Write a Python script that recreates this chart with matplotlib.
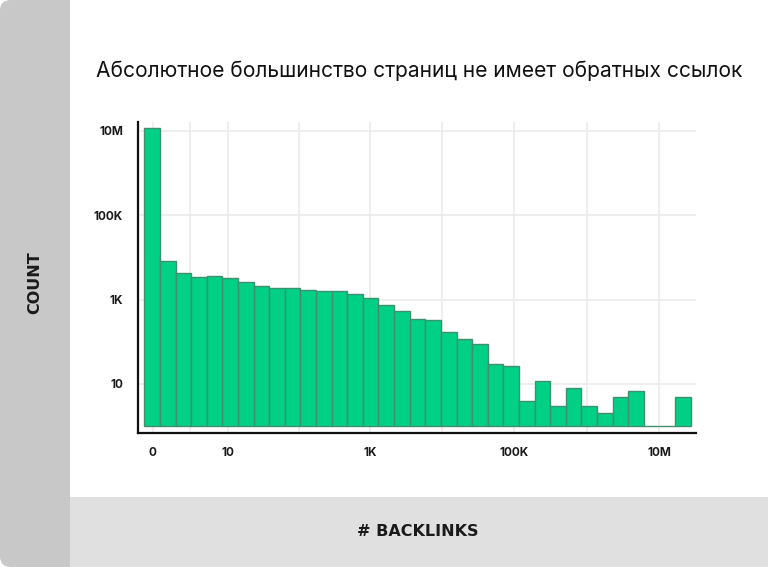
import matplotlib
matplotlib.use("Agg")
import matplotlib.pyplot as plt
from matplotlib.patches import FancyBboxPatch, Rectangle

# counts per backlink bin (log scale)
counts = [11700000, 8300, 4400, 3500, 3700, 3200, 2600, 2100, 1900, 1850,
          1700, 1600, 1600, 1350, 1120, 740, 525, 340, 325, 175,
          118, 87, 30, 26, 4, 12, 3, 8, 3, 2,
          5, 7, 1, 1, 5]
x_tick_labels = ["0", "10", "1K", "100K", "10M"]
y_tick_values = [10, 1e3, 1e5, 1e7]
y_tick_labels = ["10", "1K", "100K", "10M"]

title = "Абсолютное большинство страниц не имеет обратных ссылок"

W, H = 768, 567
fig = plt.figure(figsize=(W / 100, H / 100), dpi=100)
fig.patch.set_facecolor("white")

# background panels
side = FancyBboxPatch((0, 0), 90 / W, 1, boxstyle="round,pad=0,rounding_size=0.014",
                      transform=fig.transFigure, facecolor="#c8c8c8", edgecolor="none",
                      mutation_aspect=W / H, zorder=-3)
fig.patches.append(side)
fig.patches.append(Rectangle((70 / W, 0), 1 - 70 / W, 70 / H, transform=fig.transFigure,
                             facecolor="#e0e0e0", edgecolor="none", zorder=-2))
fig.patches.append(Rectangle((70 / W, 70 / H), 1 - 70 / W, 1 - 70 / H, transform=fig.transFigure,
                             facecolor="white", edgecolor="none", zorder=-2))

ax = fig.add_axes([138.3 / W, 134.3 / H, (696 - 138.3) / W, (445.3 - 134.3) / H])
ax.set_facecolor("white")
ax.set_yscale("log")
xs = list(range(len(counts)))
ax.bar(xs, [c - 1 for c in counts], bottom=1, width=1.0, color="#00cf86",
       edgecolor="#40906f", linewidth=1.0, zorder=3)

ax.set_ylim(10 ** -0.155, 10 ** 7.22)
ax.set_xlim(-0.884, 34.84)

# gridlines
for gx in [0.04, 2.45, 4.84, 9.43, 13.96, 18.59, 23.2, 27.84, 32.49]:
    ax.axvline(gx, color="#ebebeb", lw=1.2, zorder=1)
for gy in y_tick_values:
    ax.axhline(gy, color="#ebebeb", lw=1.2, zorder=1)

ax.set_xticks([0.04, 4.84, 13.96, 23.2, 32.49])
ax.set_xticklabels(x_tick_labels)
ax.set_yticks(y_tick_values)
ax.set_yticklabels(y_tick_labels)
ax.minorticks_off()
ax.tick_params(length=0, labelsize=8.5, colors="#1a1a1a")
ax.tick_params(axis="y", pad=11)
ax.tick_params(axis="x", pad=10)
for lab in ax.get_xticklabels() + ax.get_yticklabels():
    lab.set_fontweight("bold")
    lab.set_family(["Inter", "DejaVu Sans"])

for s in ["top", "right"]:
    ax.spines[s].set_visible(False)
for s in ["left", "bottom"]:
    ax.spines[s].set_linewidth(1.6)
    ax.spines[s].set_color("#111111")

fig.text(419 / W, 1 - 71 / H, title, ha="center", va="center", fontsize=15.1,
         color="#111111", family=["Inter", "DejaVu Sans"])
fig.text(35 / W, 1 - 283 / H, "COUNT", rotation=90, ha="center", va="center",
         fontsize=11.5, fontweight="semibold", color="#1a1a1a",
         family=["DejaVu Sans"])
fig.text(418 / W, 1 - 531.5 / H, "# BACKLINKS", ha="center", va="center",
         fontsize=11.5, fontweight="semibold", color="#1a1a1a",
         family=["DejaVu Sans"])

fig.savefig("out.png", dpi=100)
